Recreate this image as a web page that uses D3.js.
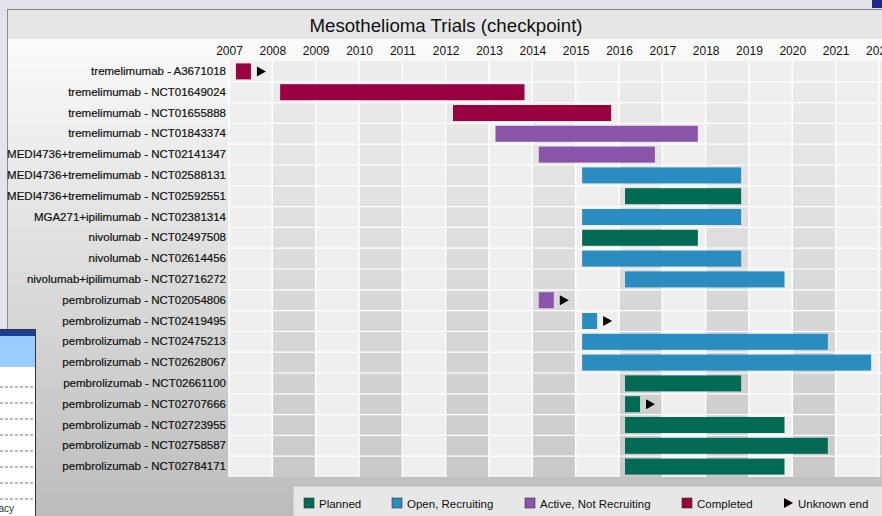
<!DOCTYPE html>
<html>
<head>
<meta charset="utf-8">
<script src="https://cdn.jsdelivr.net/npm/d3@7"></script>
<style>
    body { margin: 0; background: #e3e3eb; overflow: hidden; }
    svg { display: block; font-family: "Liberation Sans", Arial, sans-serif; }
</style>
</head>
<body>
<svg></svg>
<script>
"use strict";

// trial rows, top to bottom
var trials = [
    'tremelimumab - A3671018',
    'tremelimumab - NCT01649024',
    'tremelimumab - NCT01655888',
    'tremelimumab - NCT01843374',
    'MEDI4736+tremelimumab - NCT02141347',
    'MEDI4736+tremelimumab - NCT02588131',
    'MEDI4736+tremelimumab - NCT02592551',
    'MGA271+ipilimumab - NCT02381314',
    'nivolumab - NCT02497508',
    'nivolumab - NCT02614456',
    'nivolumab+ipilimumab - NCT02716272',
    'pembrolizumab - NCT02054806',
    'pembrolizumab - NCT02419495',
    'pembrolizumab - NCT02475213',
    'pembrolizumab - NCT02628067',
    'pembrolizumab - NCT02661100',
    'pembrolizumab - NCT02707666',
    'pembrolizumab - NCT02723955',
    'pembrolizumab - NCT02758587',
    'pembrolizumab - NCT02784171'
];
// start / end in fractional years, null end = unknown end
var startYear = [2007.16, 2008.18, 2012.17, 2013.15, 2014.15, 2015.15, 2016.14, 2015.15, 2015.15, 2015.15,
    2016.14, 2014.15, 2015.15, 2015.15, 2015.15, 2016.14, 2016.14, 2016.14, 2016.14, 2016.14];
var endYear = [null, 2013.82, 2015.82, 2017.82, 2016.83, 2018.82, 2018.82, 2018.82, 2017.82, 2018.82,
    2019.82, null, null, 2020.82, 2021.82, 2018.82, null, 2019.82, 2020.82, 2019.82];
var trialStatus = ['Completed', 'Completed', 'Completed', 'Active, Not Recruiting', 'Active, Not Recruiting',
    'Open, Recruiting', 'Planned', 'Open, Recruiting', 'Planned', 'Open, Recruiting', 'Open, Recruiting',
    'Active, Not Recruiting', 'Open, Recruiting', 'Open, Recruiting', 'Open, Recruiting', 'Planned',
    'Planned', 'Planned', 'Planned', 'Planned'];
var years = d3.range(2007, 2023);
var statusNames = ['Planned', 'Open, Recruiting', 'Active, Not Recruiting', 'Completed'];
var statusColors = ['#006a55', '#2b8cc0', '#8a55a8', '#990040'];

var settings = {
    width: 882,
    height: 516,
    panel: { x: 7, y: 9 },
    titleH: 29,
    plot: { left: 229, top: 61, bottom: 477, yearW: 43.33 },
    bar: { height: 16, square: 15 },
    font: '11.5px'
};

var rows = trials.map((t, i) => ({
    label: t, start: startYear[i], end: endYear[i], status: trialStatus[i]
}));

var svg = d3.select('svg')
    .attr('width', settings.width)
    .attr('height', settings.height);

var defs = svg.append('defs');
var g1 = defs.append('linearGradient').attr('id', 'panelGrad')
    .attr('gradientUnits', 'userSpaceOnUse').attr('x1', 0).attr('x2', 0).attr('y1', 38).attr('y2', 516);
g1.append('stop').attr('offset', 0).attr('stop-color', '#fbfbfb');
g1.append('stop').attr('offset', 1).attr('stop-color', '#bcbcbc');
var g2 = defs.append('linearGradient').attr('id', 'darkCol')
    .attr('gradientUnits', 'userSpaceOnUse').attr('x1', 0).attr('x2', 0)
    .attr('y1', settings.plot.top).attr('y2', settings.plot.bottom);
g2.append('stop').attr('offset', 0).attr('stop-color', '#ededed');
g2.append('stop').attr('offset', 1).attr('stop-color', '#c9c9c9');

// slide corner bits
svg.append('rect').attr('x', 872).attr('y', 0).attr('width', 10).attr('height', 8).attr('fill', '#1d2b8c');

// chart panel
svg.append('rect')
    .attr('x', settings.panel.x + 0.5).attr('y', settings.panel.y + 0.5)
    .attr('width', settings.width).attr('height', settings.height)
    .attr('fill', 'url(#panelGrad)')
    .attr('stroke', '#8a8a8a');
svg.append('rect')
    .attr('x', settings.panel.x + 1).attr('y', settings.panel.y + 1)
    .attr('width', settings.width).attr('height', settings.titleH)
    .attr('fill', '#e6e6e6');
svg.append('text')
    .attr('x', 446).attr('y', 32)
    .attr('text-anchor', 'middle')
    .style('font-size', '18.7px')
    .attr('fill', '#111')
    .text('Mesothelioma Trials (checkpoint)');

var x = d3.scaleLinear()
    .domain([2007, 2023])
    .range([settings.plot.left, settings.plot.left + 16 * settings.plot.yearW]);
var y = d3.scaleBand()
    .domain(trials)
    .range([settings.plot.top, settings.plot.bottom]);

// year columns
var grid = svg.append('g').attr('class', 'grid');
grid.selectAll('rect')
    .data(years)
    .enter()
    .append('rect')
    .attr('x', d => x(d))
    .attr('y', settings.plot.top)
    .attr('width', settings.plot.yearW)
    .attr('height', settings.plot.bottom - settings.plot.top)
    .attr('fill', d => d % 2 === 0 ? 'url(#darkCol)' : '#efefef');
grid.selectAll('.vline')
    .data(years.concat([2023]))
    .enter()
    .append('line')
    .attr('class', 'vline')
    .attr('x1', d => x(d)).attr('x2', d => x(d))
    .attr('y1', settings.plot.top).attr('y2', settings.plot.bottom)
    .attr('stroke', '#fff').attr('stroke-width', 1.5);
grid.selectAll('.hline')
    .data(trials.slice(1))
    .enter()
    .append('line')
    .attr('class', 'hline')
    .attr('x1', settings.plot.left).attr('x2', settings.width)
    .attr('y1', d => y(d)).attr('y2', d => y(d))
    .attr('stroke', '#fff').attr('stroke-width', 1.2);

// axes
var xAxis = svg.append('g')
    .attr('transform', `translate(0,${55})`)
    .call(d3.axisTop(x).tickValues(years).tickFormat(d3.format('d')).tickSize(0).tickPadding(0));
xAxis.select('.domain').remove();
xAxis.selectAll('text').style('font-size', '12px').attr('fill', '#111');

var yAxis = svg.append('g')
    .attr('transform', `translate(${settings.plot.left - 3},0)`)
    .call(d3.axisLeft(y).tickSize(0).tickPadding(0));
yAxis.select('.domain').remove();
yAxis.selectAll('text')
    .style('font-size', settings.font)
    .attr('fill', '#111')
    .attr('stroke', '#111').attr('stroke-width', 0.2);

// bars
var color = d3.scaleOrdinal().domain(statusNames).range(statusColors);
var barOff = (y.bandwidth() - settings.bar.height) / 2;
var bars = svg.append('g').attr('class', 'bars');
bars.selectAll('rect')
    .data(rows)
    .enter()
    .append('rect')
    .attr('x', d => x(d.start))
    .attr('y', d => y(d.label) + barOff)
    .attr('width', d => d.end === null ? settings.bar.square : x(d.end) - x(d.start))
    .attr('height', settings.bar.height)
    .attr('fill', d => color(d.status));

function arrow(x0, cy) {
    return `M${x0},${cy - 5}L${x0 + 9},${cy}L${x0},${cy + 5}Z`;
}
bars.selectAll('path')
    .data(rows.filter(d => d.end === null))
    .enter()
    .append('path')
    .attr('d', d => arrow(x(d.start) + settings.bar.square + 6, y(d.label) + y.bandwidth() / 2))
    .attr('fill', '#000');

// legend
var legend = svg.append('g').attr('class', 'legend');
legend.append('rect')
    .attr('x', 293.5).attr('y', 486.5)
    .attr('width', 600).attr('height', 40)
    .attr('fill', '#e7e7e7').attr('stroke', '#d0d0d0');
var legendX = [304, 392, 525, 682];
var items = legend.selectAll('.item')
    .data(statusNames)
    .enter()
    .append('g')
    .attr('class', 'item')
    .attr('transform', (d, i) => `translate(${legendX[i]},${498})`);
items.append('rect')
    .attr('width', 10).attr('height', 10)
    .attr('fill', d => color(d))
    .attr('stroke', '#333').attr('stroke-width', 0.6);
items.append('text')
    .attr('x', 15).attr('y', 9.5)
    .style('font-size', settings.font)
    .attr('fill', '#111')
    .text(d => d);
legend.append('path').attr('d', arrow(784, 503)).attr('fill', '#000');
legend.append('text')
    .attr('x', 798).attr('y', 507.5)
    .style('font-size', settings.font)
    .attr('fill', '#111')
    .text('Unknown end');

// window peeking in from the left
var win = svg.append('g').attr('class', 'window');
win.append('rect').attr('x', -2).attr('y', 329.5).attr('width', 37.5).attr('height', 200)
    .attr('fill', '#fff').attr('stroke', '#333');
win.append('rect').attr('x', 0).attr('y', 330).attr('width', 35).attr('height', 6).attr('fill', '#1c3f94');
win.append('rect').attr('x', 0).attr('y', 336).attr('width', 35).attr('height', 31).attr('fill', '#99ccff');
win.selectAll('line')
    .data(d3.range(8))
    .enter()
    .append('line')
    .attr('x1', 0).attr('x2', 35)
    .attr('y1', d => 387 + d * 16).attr('y2', d => 387 + d * 16)
    .attr('stroke', '#777').attr('stroke-dasharray', '3,2');
win.append('text').attr('x', 14).attr('y', 512).attr('text-anchor', 'end')
    .style('font-size', '10px').attr('fill', '#333').text('Efficacy');
</script>
</body>
</html>
